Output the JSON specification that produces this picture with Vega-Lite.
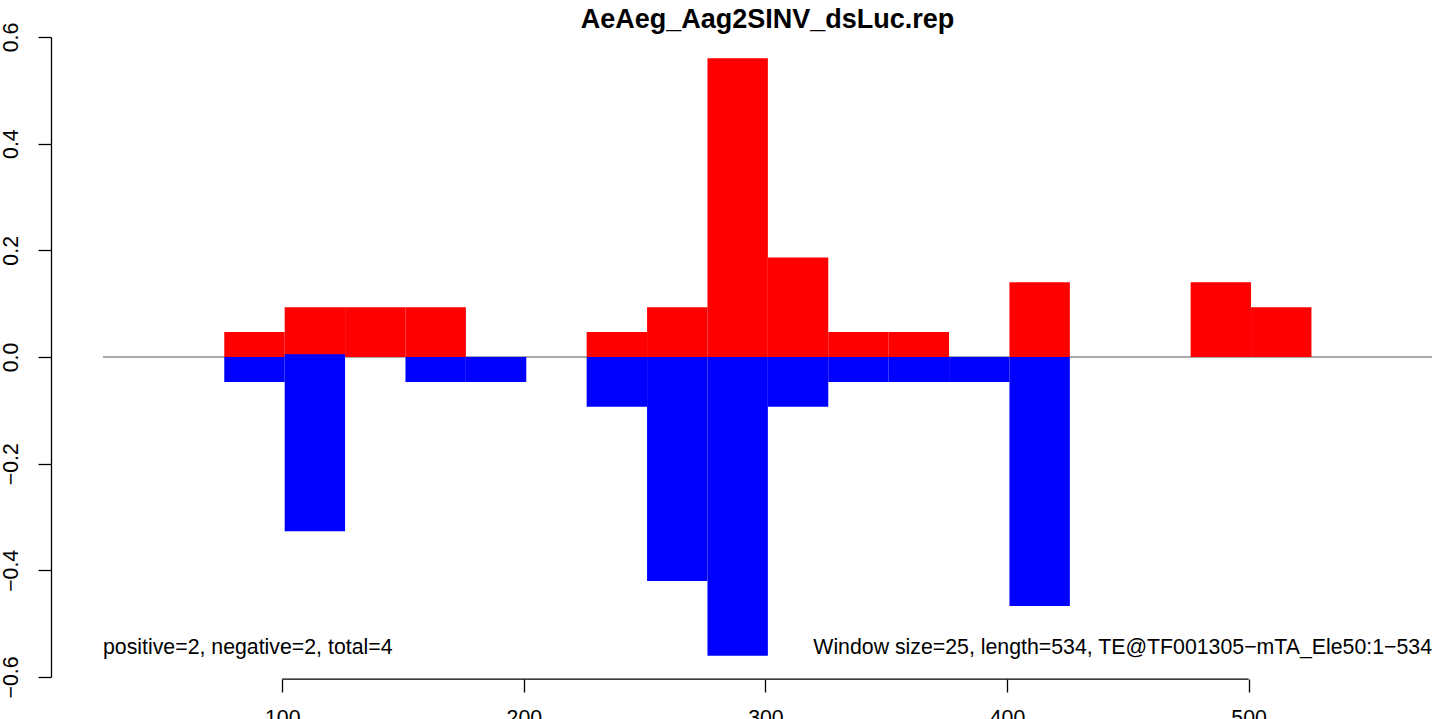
{
  "$schema": "https://vega.github.io/schema/vega-lite/v6.json",
  "width": 1329,
  "height": 640,
  "autosize": {"type": "none"},
  "padding": {"left": 103, "top": 37, "right": 12, "bottom": 42},
  "background": "white",
  "config": {
    "view": {"stroke": null},
    "font": "Liberation Sans",
    "axis": {"grid": false, "labelFont": "Liberation Sans", "labelFontSize": 21.3, "labelColor": "black", "tickColor": "black", "domainColor": "black", "tickWidth": 1.3, "domainWidth": 1.3}
  },
  "title": {"text": "AeAeg_Aag2SINV_dsLuc.rep", "font": "Liberation Sans", "fontSize": 27, "fontWeight": "bold", "anchor": "middle", "frame": "group", "offset": -12, "color": "black"},
  "datasets": {
    "bars": [
      {"start": 76, "end": 101, "value": 0.0467, "base": 0, "strand": "pos"},
      {"start": 101, "end": 126, "value": 0.0933, "base": 0, "strand": "pos"},
      {"start": 126, "end": 151, "value": 0.0933, "base": 0, "strand": "pos"},
      {"start": 151, "end": 176, "value": 0.0933, "base": 0, "strand": "pos"},
      {"start": 226, "end": 251, "value": 0.0467, "base": 0, "strand": "pos"},
      {"start": 251, "end": 276, "value": 0.0933, "base": 0, "strand": "pos"},
      {"start": 276, "end": 301, "value": 0.56, "base": 0, "strand": "pos"},
      {"start": 301, "end": 326, "value": 0.1867, "base": 0, "strand": "pos"},
      {"start": 326, "end": 351, "value": 0.0467, "base": 0, "strand": "pos"},
      {"start": 351, "end": 376, "value": 0.0467, "base": 0, "strand": "pos"},
      {"start": 401, "end": 426, "value": 0.14, "base": 0, "strand": "pos"},
      {"start": 476, "end": 501, "value": 0.14, "base": 0, "strand": "pos"},
      {"start": 501, "end": 526, "value": 0.0933, "base": 0, "strand": "pos"},
      {"start": 76, "end": 101, "value": -0.0467, "base": 0, "strand": "neg"},
      {"start": 101, "end": 126, "value": -0.3267, "base": 0.005, "strand": "neg"},
      {"start": 151, "end": 176, "value": -0.0467, "base": 0, "strand": "neg"},
      {"start": 176, "end": 201, "value": -0.0467, "base": 0, "strand": "neg"},
      {"start": 226, "end": 251, "value": -0.0933, "base": 0, "strand": "neg"},
      {"start": 251, "end": 276, "value": -0.42, "base": 0, "strand": "neg"},
      {"start": 276, "end": 301, "value": -0.56, "base": 0, "strand": "neg"},
      {"start": 301, "end": 326, "value": -0.0933, "base": 0, "strand": "neg"},
      {"start": 326, "end": 351, "value": -0.0467, "base": 0, "strand": "neg"},
      {"start": 351, "end": 376, "value": -0.0467, "base": 0, "strand": "neg"},
      {"start": 376, "end": 401, "value": -0.0467, "base": 0, "strand": "neg"},
      {"start": 401, "end": 426, "value": -0.4667, "base": 0, "strand": "neg"}
    ],
    "notes": [
      {"x": 25.8, "y": -0.5456, "label": "positive=2, negative=2, total=4", "side": "left"},
      {"x": 575.9, "y": -0.5456, "label": "Window size=25, length=534, TE@TF001305−mTA_Ele50:1−534", "side": "right"}
    ],
    "xaxisline": [{"a": 100, "b": 500, "y": -0.6038}],
    "zeroline": [{"zero": 0}]
  },
  "layer": [
    {
      "data": {"name": "zeroline"},
      "mark": {"type": "rule", "color": "#8c8c8c", "strokeWidth": 1.3},
      "encoding": {"y": {"field": "zero", "type": "quantitative"}}
    },
    {
      "data": {"name": "bars"},
      "mark": {"type": "rect", "clip": false},
      "encoding": {
        "x": {"field": "start", "type": "quantitative", "scale": {"domain": [25.8, 575.9], "nice": false, "zero": false},
          "axis": {"values": [100, 200, 300, 400, 500], "domain": false, "offset": 2, "tickSize": 13, "labelPadding": 15, "labelFlush": false, "labelOverlap": false, "title": null}},
        "x2": {"field": "end"},
        "y": {"field": "value", "type": "quantitative", "scale": {"domain": [-0.6, 0.6], "nice": false, "zero": false},
          "axis": {"values": [-0.6, -0.4, -0.2, 0, 0.2, 0.4, 0.6], "format": ".1f", "offset": 52, "tickSize": 13, "labelAngle": -90, "labelPadding": 17, "labelFlush": false, "labelOverlap": false, "title": null}},
        "y2": {"field": "base"},
        "color": {"field": "strand", "type": "nominal", "scale": {"domain": ["pos", "neg"], "range": ["#FF0000", "#0000FF"]}, "legend": null}
      }
    },
    {
      "data": {"name": "xaxisline"},
      "mark": {"type": "rule", "color": "black", "strokeWidth": 1.3, "clip": false},
      "encoding": {
        "x": {"field": "a", "type": "quantitative"},
        "x2": {"field": "b"},
        "y": {"field": "y", "type": "quantitative"}
      }
    },
    {
      "data": {"name": "notes"},
      "transform": [{"filter": "datum.side == 'left'"}],
      "mark": {"type": "text", "align": "left", "baseline": "middle", "fontSize": 21.3, "font": "Liberation Sans", "color": "black"},
      "encoding": {
        "x": {"field": "x", "type": "quantitative"},
        "y": {"field": "y", "type": "quantitative"},
        "text": {"field": "label"}
      }
    },
    {
      "data": {"name": "notes"},
      "transform": [{"filter": "datum.side == 'right'"}],
      "mark": {"type": "text", "align": "right", "baseline": "middle", "fontSize": 21.3, "font": "Liberation Sans", "color": "black"},
      "encoding": {
        "x": {"field": "x", "type": "quantitative"},
        "y": {"field": "y", "type": "quantitative"},
        "text": {"field": "label"}
      }
    }
  ]
}
